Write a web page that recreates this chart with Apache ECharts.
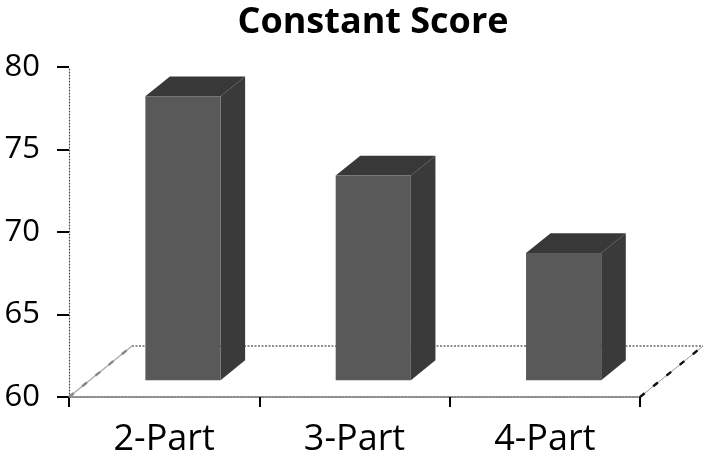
<!DOCTYPE html>
<html>
<head>
<meta charset="utf-8">
<script src="https://cdn.jsdelivr.net/npm/echarts@6/dist/echarts.min.js"></script>
<style>html,body{margin:0;padding:0;background:#fff}#c{width:708px;height:460px}</style>
</head>
<body>
<div id="c"></div>
<script>
var categories = ['2-Part', '3-Part', '4-Part'];
var scores = [77.2, 72.4, 67.7];
var yTicks = [60, 65, 70, 75, 80];

var DEPTH_X = 63, DEPTH_Y = -51;   // floor depth offset in pixels
var FRONT = 0.33, BACK = 0.72;      // bar depth placement (fraction of floor depth)

var chart = echarts.init(document.getElementById('c'), null, {renderer: 'canvas'});

function renderBar(params, api) {
  var idx = api.value(0), v = api.value(1);
  var base = api.coord([idx, yTicks[0]]);
  var top = api.coord([idx, v]);
  var w = api.size([1, 0])[0] * 0.395;
  var fx = FRONT * DEPTH_X, fy = FRONT * DEPTH_Y;
  var bx = BACK * DEPTH_X, by = BACK * DEPTH_Y;
  var x0 = base[0] - w / 2 + fx - 2, x1 = x0 + w;
  var yb = base[1] + fy, yt = top[1] + fy;
  var ddx = bx - fx, ddy = by - fy;
  return {
    type: 'group',
    children: [
      {type: 'polygon', shape: {points: [[x1, yt], [x1 + ddx, yt + ddy], [x1 + ddx, yb + ddy], [x1, yb]]},
        style: {fill: '#3a3a3a'}},
      {type: 'polygon', shape: {points: [[x0, yt], [x0 + ddx, yt + ddy], [x1 + ddx, yt + ddy], [x1, yt]]},
        style: {fill: '#383838'}},
      {type: 'rect', shape: {x: x0, y: yt, width: w, height: yb - yt},
        style: {fill: '#595959'}}
    ]
  };
}

function renderFloor(params, api) {
  var band = api.size([1, 0])[0];
  var l = api.coord([0, yTicks[0]]);
  var r = api.coord([categories.length - 1, yTicks[0]]);
  var xl = l[0] - band / 2, xr = r[0] + band / 2, y = l[1];
  return {
    type: 'group',
    children: [
      {type: 'line', shape: {x1: xl + DEPTH_X, y1: y + DEPTH_Y, x2: xr + DEPTH_X, y2: y + DEPTH_Y},
        style: {stroke: '#8f8f8f', lineWidth: 1.8, lineDash: [2, 1.5]}},
      {type: 'line', shape: {x1: xl, y1: y, x2: xl + DEPTH_X, y2: y + DEPTH_Y},
        style: {stroke: '#a8a8a8', lineWidth: 1.3}},
      {type: 'line', shape: {x1: xl, y1: y, x2: xl + DEPTH_X, y2: y + DEPTH_Y},
        style: {stroke: '#888', lineWidth: 2.4, lineDash: [6, 11]}},
      {type: 'line', shape: {x1: xr, y1: y, x2: xr + DEPTH_X, y2: y + DEPTH_Y},
        style: {stroke: '#999', lineWidth: 1}},
      {type: 'line', shape: {x1: xr, y1: y, x2: xr + DEPTH_X, y2: y + DEPTH_Y},
        style: {stroke: '#111', lineWidth: 2.4, lineDash: [6, 11]}}
    ]
  };
}

chart.setOption({
  animation: false,
  backgroundColor: '#ffffff',
  title: {
    text: 'Constant Score',
    left: 368, textAlign: 'center', top: 0,
    textStyle: {fontFamily: 'Open Sans', fontWeight: 'bold', fontSize: 36, color: '#000'}
  },
  grid: {left: 69, right: 68, top: 67, bottom: 63},
  xAxis: {
    type: 'category',
    data: categories,
    boundaryGap: true,
    axisLine: {show: true, lineStyle: {color: '#8a8a8a', width: 1.8, type: [2, 1.5]}},
    axisTick: {show: true, length: 10, interval: 0, lineStyle: {color: '#000', width: 2}},
    axisLabel: {fontFamily: 'Open Sans', fontSize: 36, color: '#000', margin: 25},
    splitLine: {show: false}
  },
  yAxis: {
    type: 'value',
    min: 60, max: 80, interval: 5,
    axisLine: {show: true, lineStyle: {color: '#444', width: 1.2, type: [1, 2]}},
    axisTick: {show: true, length: 12, lineStyle: {color: '#000', width: 2}},
    axisLabel: {fontFamily: 'Open Sans', fontSize: 31, color: '#000', margin: 29},
    splitLine: {show: false}
  },
  series: [
    {type: 'custom', z: 1, renderItem: renderFloor, data: [[0, yTicks[0]]], silent: true},
    {type: 'custom', z: 2, renderItem: renderBar,
      encode: {x: 0, y: 1},
      data: categories.map(function (c, i) { return [i, scores[i]]; })}
  ]
});
</script>
</body>
</html>
